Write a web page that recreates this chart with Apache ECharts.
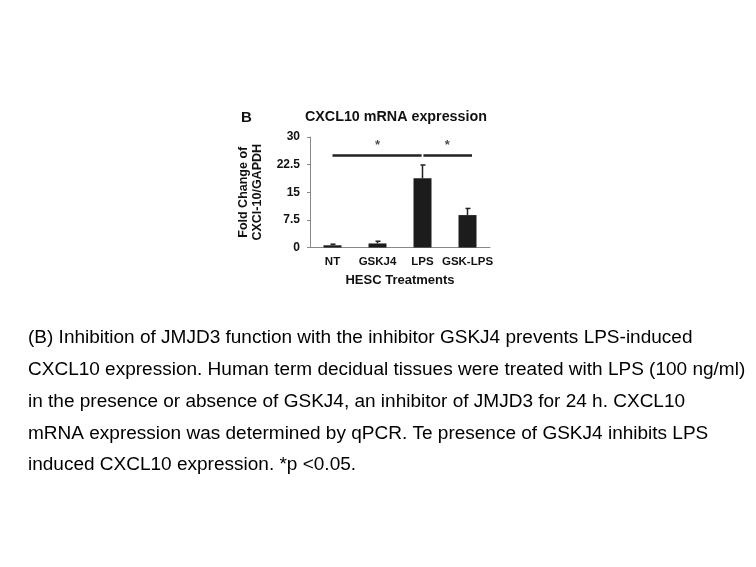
<!DOCTYPE html>
<html>
<head>
<meta charset="utf-8">
<script src="https://cdn.jsdelivr.net/npm/echarts@6/dist/echarts.min.js"></script>
<style>html,body{margin:0;padding:0;background:#fff;}#c{width:756px;height:567px;}</style>
</head>
<body>
<div id="c"></div>
<script>
var categories = ['NT', 'GSKJ4', 'LPS', 'GSK-LPS'];
var means = [0.6, 1.1, 18.8, 8.8];
var errors = [0.3, 0.6, 3.6, 1.8];
var yTicks = [0, 7.5, 15, 22.5, 30];
var brackets = [[[0, 25], [1.98, 25]], [[2.02, 25], [3.1, 25]]];
var stars = [[1, 27.8], [2.55, 27.8]];
var captionLines = [
  '(B) Inhibition of JMJD3 function with the inhibitor GSKJ4 prevents LPS-induced',
  'CXCL10 expression. Human term decidual tissues were treated with LPS (100 ng/ml)',
  'in the presence or absence of GSKJ4, an inhibitor of JMJD3 for 24 h. CXCL10',
  'mRNA expression was determined by qPCR. Te presence of GSKJ4 inhibits LPS',
  'induced CXCL10 expression. *p <0.05.'
];

var chart = echarts.init(document.getElementById('c'));
var font = 'Arial, "Liberation Sans", sans-serif';

var graphics = [
  {type: 'text', left: 241, top: 110, style: {text: 'B', font: 'bold 15px ' + font, fill: '#111'}},
  {type: 'text', left: 305, top: 110, style: {text: 'CXCL10 mRNA expression', font: 'bold 14.3px ' + font, fill: '#111'}}
];
captionLines.forEach(function (t, i) {
  graphics.push({type: 'text', x: 28, y: 329.5 + i * 31.75, scaleX: 1.086,
    style: {text: t, font: '17.5px ' + font, fill: '#000', verticalAlign: 'top', align: 'left'}});
});

var bracketSeries = brackets.map(function (b) {
  return {
    type: 'line', xAxisIndex: 1, data: b, symbol: 'none', silent: true,
    lineStyle: {color: '#222', width: 2.5}, animation: false, z: 5
  };
});

chart.setOption({
  animation: false,
  graphic: graphics,
  grid: {left: 310, right: 266, top: 137, bottom: 319.5},
  xAxis: [{
    type: 'category', data: categories,
    axisLine: {lineStyle: {color: '#888', width: 1}},
    axisTick: {show: false},
    axisLabel: {color: '#111', fontWeight: 'bold', fontSize: 11.5, fontFamily: font, margin: 8, interval: 0},
    name: 'HESC Treatments', nameLocation: 'middle', nameGap: 26,
    nameTextStyle: {color: '#111', fontWeight: 'bold', fontSize: 13, fontFamily: font}
  }, {
    type: 'value', min: -0.5, max: 3.5, show: false
  }],
  yAxis: {
    type: 'value', min: 0, max: 30, interval: 7.5,
    axisLine: {show: true, onZero: false, lineStyle: {color: '#888', width: 1}},
    axisTick: {show: true, length: 3, lineStyle: {color: '#888'}},
    splitLine: {show: false},
    axisLabel: {color: '#111', fontWeight: 'bold', fontSize: 12, fontFamily: font, margin: 10,
      formatter: function (v) { return yTicks.indexOf(v) >= 0 ? String(v) : ''; }},
    name: 'Fold Change of\nCXCl-10/GAPDH', nameLocation: 'middle', nameRotate: 90, nameGap: 46,
    nameTextStyle: {color: '#111', fontWeight: 'bold', fontSize: 12.5, fontFamily: font, lineHeight: 13.5}
  },
  series: [{
    type: 'bar', data: means, barWidth: '40%',
    itemStyle: {color: '#1c1c1c'}
  }, {
    type: 'custom',
    data: means.map(function (m, i) { return [i, m, m + errors[i]]; }),
    renderItem: function (params, api) {
      var base = api.coord([api.value(0), api.value(1)]);
      var top = api.coord([api.value(0), api.value(2)]);
      return {type: 'group', children: [
        {type: 'line', shape: {x1: base[0], y1: base[1], x2: top[0], y2: top[1]}, style: {stroke: '#222', lineWidth: 1.5}},
        {type: 'line', shape: {x1: top[0] - 2, y1: top[1], x2: top[0] + 3, y2: top[1]}, style: {stroke: '#222', lineWidth: 1.5}}
      ]};
    },
    z: 4
  }].concat(bracketSeries).concat([{
    type: 'scatter', xAxisIndex: 1, data: stars, symbolSize: 0,
    label: {show: true, formatter: '*', position: 'inside', color: '#222', fontWeight: 'bold', fontSize: 13, fontFamily: font},
    z: 6
  }])
});
</script>
</body>
</html>
